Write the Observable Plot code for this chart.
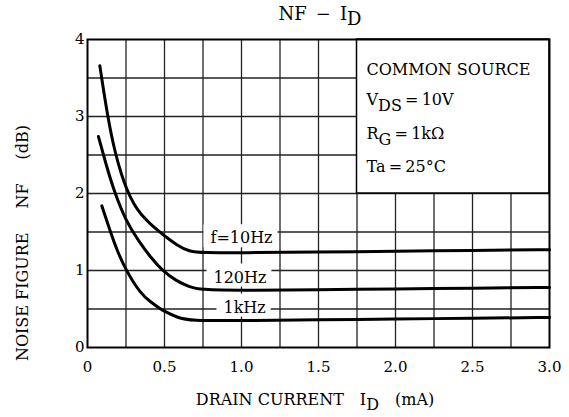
<!DOCTYPE html>
<html><head><meta charset="utf-8">
<script src="https://cdn.jsdelivr.net/npm/d3@7"></script>
<script src="https://cdn.jsdelivr.net/npm/@observablehq/plot@0.6"></script>
<style>body{margin:0;background:#fff} svg{display:block}</style>
</head><body><div id="chart"></div>
<script>
// ---- data ----
const seriesNames = ["10Hz", "120Hz", "1kHz"];
const x10Hz  = [0.08, 0.13, 0.18, 0.22, 0.253, 0.30, 0.35, 0.41, 0.47, 0.50, 0.58, 0.66, 0.75, 1.0, 1.5, 2.0, 2.5, 3.0];
const nf10Hz = [3.66, 3.00, 2.52, 2.25, 2.06, 1.86, 1.72, 1.60, 1.50, 1.45, 1.33, 1.245, 1.23, 1.23, 1.24, 1.25, 1.26, 1.27];
const x120Hz  = [0.071, 0.12, 0.171, 0.25, 0.33, 0.41, 0.485, 0.58, 0.66, 0.73, 1.0, 1.5, 2.0, 2.5, 3.0];
const nf120Hz = [2.74, 2.38, 2.04, 1.64, 1.39, 1.17, 1.00, 0.86, 0.79, 0.75, 0.74, 0.75, 0.76, 0.77, 0.78];
const x1kHz  = [0.093, 0.149, 0.19, 0.25, 0.344, 0.41, 0.474, 0.50, 0.58, 0.67, 1.0, 1.5, 2.0, 2.5, 3.0];
const nf1kHz = [1.84, 1.50, 1.27, 1.00, 0.70, 0.59, 0.50, 0.47, 0.39, 0.345, 0.35, 0.36, 0.37, 0.38, 0.39];

const curveLabelText = ["f=10Hz", "120Hz", "1kHz"];
const curveLabelX = [1.0, 0.99, 1.02];
const curveLabelY = [1.42, 0.91, 0.52];

const xTicks = [0, 0.5, 1.0, 1.5, 2.0, 2.5, 3.0];
const xTickLabels = ["0", "0.5", "1.0", "1.5", "2.0", "2.5", "3.0"];
const yTicks = [0, 1, 2, 3, 4];
const yTickLabels = ["0", "1", "2", "3", "4"];
const xGrid = [0.25, 0.5, 0.75, 1.0, 1.25, 1.5, 1.75, 2.0, 2.25, 2.5, 2.75];
const yGrid = [0.5, 1.0, 1.5, 2.0, 2.5, 3.0, 3.5];
const legendBox = {x1: 1.75, x2: 3.0, y1: 2.0, y2: 4.0};

(function () {
// ---- build tables ----
const rows = [];
[[x10Hz, nf10Hz], [x120Hz, nf120Hz], [x1kHz, nf1kHz]].forEach(([xs, ys], s) => {
  xs.forEach((x, i) => rows.push({series: seriesNames[s], x, nf: ys[i]}));
});
const curveLabels = curveLabelText.map((t, i) => ({label: t, x: curveLabelX[i], y: curveLabelY[i]}));

const FONT = "DejaVu Serif";
const gridStyle = {stroke: "#222", strokeOpacity: 1, strokeWidth: 1.3};

const plot = Plot.plot({
  width: 569, height: 417,
  marginLeft: 87, marginRight: 20, marginTop: 39, marginBottom: 70,
  style: {fontFamily: FONT, fontSize: "15px", color: "#000", background: "#fff"},
  x: {domain: [0, 3]},
  y: {domain: [0, 4]},
  marks: [
    Plot.gridX(xGrid, gridStyle),
    Plot.gridY(yGrid, gridStyle),
    Plot.rect([legendBox], {x1: "x1", x2: "x2", y1: "y1", y2: "y2", fill: "white", stroke: "#000", strokeWidth: 1.5}),
    Plot.text(curveLabels, {x: "x", y: "y", text: "label", fontSize: 16, fill: "#000", className: "curve-label"}),
    Plot.line(rows, {x: "x", y: "nf", z: "series", stroke: "#000", strokeWidth: 3, curve: "basis"}),
    Plot.frame({stroke: "#000", strokeWidth: 2}),
    Plot.axisX(xTicks, {tickSize: 0, tickPadding: 14, label: null, fontSize: 15,
      tickFormat: d => xTickLabels[xTicks.indexOf(d)]}),
    Plot.axisY(yTicks, {tickSize: 0, tickPadding: 3, label: null, fontSize: 15,
      tickFormat: d => yTickLabels[yTicks.indexOf(d)]})
  ]
});
document.getElementById("chart").appendChild(plot);

const svg = d3.select(plot);
const sx = plot.scale("x"), sy = plot.scale("y");

// white boxes behind curve labels
const svgRect = plot.getBoundingClientRect();
const labelG = plot.querySelector("g.curve-label") || plot.querySelector("[class*='curve-label']");
if (labelG) {
  const boxG = document.createElementNS("http://www.w3.org/2000/svg", "g");
  labelG.querySelectorAll("text").forEach(t => {
    const r = t.getBoundingClientRect();
    const rect = document.createElementNS("http://www.w3.org/2000/svg", "rect");
    rect.setAttribute("x", r.left - svgRect.left - 7);
    rect.setAttribute("y", r.top - svgRect.top - 4);
    rect.setAttribute("width", r.width + 12);
    rect.setAttribute("height", r.height + 4);
    rect.setAttribute("fill", "white");
    boxG.appendChild(rect);
  });
  labelG.parentNode.insertBefore(boxG, labelG);
}

function subText(parent, x, y, parts, opts = {}) {
  const t = parent.append("text")
    .attr("x", x).attr("y", y)
    .attr("font-family", FONT).attr("font-size", opts.size || 16)
    .attr("fill", "#000")
    .attr("text-anchor", opts.anchor || "start")
    .style("white-space", "pre");
  if (opts.rotate) t.attr("transform", `rotate(-90 ${x} ${y})`);
  let shift = 0;
  const drop = opts.drop || 6;
  parts.forEach(([s, sub]) => {
    const want = sub ? drop : 0;
    t.append("tspan").attr("dy", want - shift).text(s);
    shift = want;
  });
  return t;
}

// title
const cx = (sx.apply(0) + sx.apply(3)) / 2;
subText(svg, cx + 2, 20, [["NF\u2002\u2212\u2002I"], ["D", true]], {anchor: "middle", size: 18, drop: 5});
// x label
subText(svg, cx - 3, 405, [["DRAIN CURRENT\u2003I"], ["D", true], ["\u2003(mA)"]], {anchor: "middle", drop: 5});
// y label
subText(svg, 28, 243, [["NOISE FIGURE\u2003\u2002NF\u2003\u2002(dB)"]], {anchor: "middle", rotate: true});

// legend text
const lx = sx.apply(legendBox.x1) + 10;
const boxTop = sy.apply(legendBox.y2);
subText(svg, lx, boxTop + 36, [["COMMON SOURCE"]]);
subText(svg, lx, boxTop + 66, [["V"], ["DS", true], ["\u2009=\u200910V"]]);
subText(svg, lx, boxTop + 100, [["R"], ["G", true], ["\u2009=\u20091k\u03A9"]]);
subText(svg, lx, boxTop + 133, [["Ta\u2009=\u200925\u00B0C"]]);
})();
</script></body></html>
